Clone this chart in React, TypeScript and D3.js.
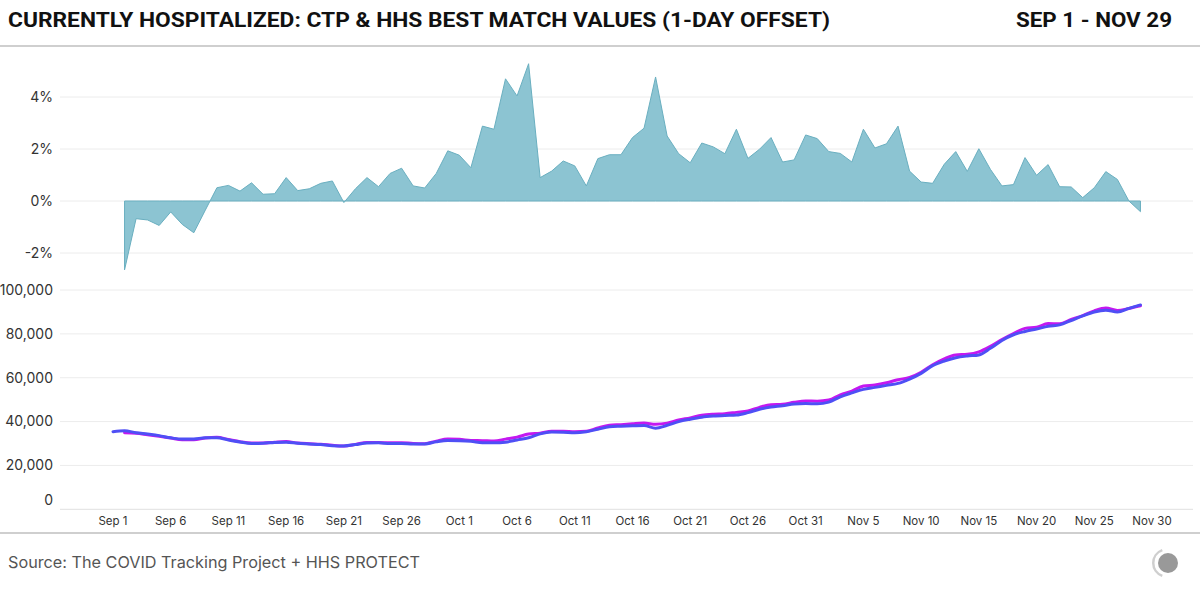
import React from "react";
import * as d3 from "d3";

const W = 1200;
const H = 591;

const startDate = new Date(Date.UTC(2020, 8, 1));
const dayOf = (i: number) => d3.utcDay.offset(startDate, i);

// Percent difference (HHS vs CTP, 1-day offset), Sep 2 .. Nov 29
const diffPct: number[] = [
  -2.65, -0.68, -0.73, -0.94, -0.42, -0.9, -1.22, -0.35, 0.51, 0.6,
  0.38, 0.7, 0.26, 0.28, 0.9, 0.4, 0.47, 0.68, 0.77, -0.06,
  0.47, 0.9, 0.55, 1.06, 1.26, 0.58, 0.5, 1.06, 1.93, 1.76,
  1.28, 2.88, 2.76, 4.7, 4.04, 5.28, 0.9, 1.15, 1.54, 1.35,
  0.58, 1.63, 1.78, 1.78, 2.44, 2.8, 4.77, 2.5, 1.82, 1.47,
  2.23, 2.08, 1.82, 2.76, 1.64, 1.99, 2.44, 1.5, 1.58, 2.54,
  2.4, 1.9, 1.83, 1.5, 2.76, 2.04, 2.2, 2.88, 1.15, 0.73,
  0.68, 1.41, 1.9, 1.14, 2.01, 1.22, 0.58, 0.63, 1.67, 0.99,
  1.4, 0.55, 0.54, 0.13, 0.51, 1.13, 0.83, 0.0, -0.41,
];

// CTP currently hospitalized (thousands), Sep 1 .. Nov 29
const ctpK: number[] = [
  35.4, 35.8, 34.9, 34.3, 33.6, 32.6, 32.0, 32.1, 32.6, 32.6,
  31.6, 30.7, 30.0, 30.1, 30.5, 30.6, 30.1, 29.8, 29.5, 29.0,
  28.9, 29.5, 30.2, 30.3, 30.0, 30.0, 29.8, 29.8, 30.8, 31.4,
  31.3, 31.0, 30.4, 30.3, 30.6, 31.6, 32.6, 34.4, 35.2, 35.1,
  34.9, 35.4, 36.5, 37.6, 37.9, 38.1, 38.2, 37.0, 38.3, 40.0,
  41.1, 42.0, 42.5, 42.8, 43.0, 44.1, 45.6, 46.6, 47.2, 48.0,
  48.2, 48.1, 48.9, 51.3, 53.1, 54.7, 55.6, 56.5, 57.4, 59.4,
  62.0, 65.5, 67.6, 69.1, 69.9, 70.4, 73.4, 77.0, 79.6, 81.1,
  82.2, 83.5, 84.1, 86.1, 88.2, 90.0, 90.8, 90.0, 91.6, 93.2,
];

// HHS best-match values (thousands), Sep 2 .. Nov 29
const hhsK: number[] = [
  34.9, 34.7, 34.0, 33.3, 32.5, 31.7, 31.7, 32.5, 32.8, 31.8,
  30.8, 30.2, 30.2, 30.6, 30.9, 30.2, 29.9, 29.7, 29.2, 28.9,
  29.6, 30.5, 30.5, 30.3, 30.4, 30.0, 29.9, 31.1, 32.0, 31.9,
  31.4, 31.3, 31.1, 32.0, 32.9, 34.3, 34.7, 35.6, 35.6, 35.4,
  35.6, 37.1, 38.3, 38.6, 39.0, 39.3, 38.8, 39.3, 40.7, 41.7,
  42.9, 43.4, 43.6, 44.2, 44.8, 46.5, 47.7, 47.9, 48.8, 49.4,
  49.3, 49.8, 52.2, 53.9, 56.2, 56.7, 57.7, 59.1, 60.1, 62.5,
  65.9, 68.6, 70.4, 70.7, 71.8, 74.3, 77.4, 80.1, 82.5, 83.0,
  84.7, 84.6, 86.6, 88.3, 90.5, 91.8, 90.7, 91.6, 92.8,
];

const pctTicks = [-2, 0, 2, 4];
const countTicks = [0, 20000, 40000, 60000, 80000, 100000];
const xTickDays = [0, 5, 10, 15, 20, 25, 30, 35, 40, 45, 50, 55, 60, 65, 70, 75, 80, 85, 90];

const title = "CURRENTLY HOSPITALIZED: CTP & HHS BEST MATCH VALUES (1-DAY OFFSET)";
const dateRange = "SEP 1 - NOV 29";
const source = "Source: The COVID Tracking Project + HHS PROTECT";

export default function App() {
  const x = d3
    .scaleUtc()
    .domain([startDate, dayOf(90)])
    .range([113, 1152]);
  const yPct = d3.scaleLinear().domain([-2, 4]).range([253, 97]);
  const yCount = d3.scaleLinear().domain([0, 100000]).range([509.3, 290]);

  const diffData = diffPct.map((v, i) => ({ d: dayOf(i + 1), v }));
  const ctpData = ctpK.map((v, i) => ({ d: dayOf(i), v: v * 1000 }));
  const hhsData = hhsK.map((v, i) => ({ d: dayOf(i + 1), v: v * 1000 }));

  const area = d3
    .area<{ d: Date; v: number }>()
    .x((p) => x(p.d))
    .y0(yPct(0))
    .y1((p) => yPct(p.v));

  const line = d3
    .line<{ d: Date; v: number }>()
    .x((p) => x(p.d))
    .y((p) => yCount(p.v))
    .curve(d3.curveMonotoneX);

  const fmtDate = d3.utcFormat("%b %-d");
  const fmtCount = d3.format(",");
  const gridX0 = 60;
  const gridX1 = 1193;
  const labelFont = "Inter, 'Noto Sans', sans-serif";

  return (
    <svg
      width={W}
      height={H}
      viewBox={`0 0 ${W} ${H}`}
      style={{ position: "absolute", left: 0, top: 0, background: "#fff" }}
    >
      <rect x={0} y={0} width={W} height={H} fill="#fff" />
      <text
        x={8}
        y={27}
        fontFamily="Roboto, 'Liberation Sans', sans-serif"
        fontWeight={700}
        fontSize={20}
        fill="#111"
        textLength={822}
        lengthAdjust="spacingAndGlyphs"
      >
        {title}
      </text>
      <text
        x={1172}
        y={27}
        textAnchor="end"
        fontFamily="Roboto, 'Liberation Sans', sans-serif"
        fontWeight={700}
        fontSize={20}
        fill="#111"
        textLength={156}
        lengthAdjust="spacingAndGlyphs"
      >
        {dateRange}
      </text>
      <line x1={0} x2={W} y1={46} y2={46} stroke="#cfcfcf" strokeWidth={2} />

      {/* top chart gridlines */}
      {pctTicks.map((t) => (
        <g key={"p" + t}>
          <line x1={gridX0} x2={gridX1} y1={yPct(t)} y2={yPct(t)} stroke="#ececec" strokeWidth={1} />
          <text
            x={53}
            y={yPct(t)}
            dy="0.35em"
            textAnchor="end"
            fontFamily={labelFont}
            fontSize={14}
            fill="#333"
          >
            {t + "%"}
          </text>
        </g>
      ))}
      <path d={area(diffData) || ""} fill="#8cc4d2" stroke="#6aafc0" strokeWidth={1} />

      {/* bottom chart gridlines */}
      {countTicks.map((t) => (
        <g key={"c" + t}>
          <line
            x1={gridX0}
            x2={gridX1}
            y1={yCount(t)}
            y2={yCount(t)}
            stroke={t === 0 ? "#e0e0e0" : "#ececec"}
            strokeWidth={1}
          />
          <text
            x={53}
            y={t === 0 ? yCount(t) - 9 : yCount(t)}
            dy="0.35em"
            textAnchor="end"
            fontFamily={labelFont}
            fontSize={14}
            fill="#333"
          >
            {fmtCount(t)}
          </text>
        </g>
      ))}
      <path d={line(hhsData) || ""} fill="none" stroke="#c418f0" strokeWidth={3} strokeLinejoin="round" strokeLinecap="round" />
      <path d={line(ctpData) || ""} fill="none" stroke="#4f4ff5" strokeWidth={3} strokeLinejoin="round" strokeLinecap="round" />

      {/* x ticks */}
      {xTickDays.map((i) => (
        <text
          key={"x" + i}
          x={x(dayOf(i))}
          y={521}
          dy="0.35em"
          textAnchor="middle"
          fontFamily={labelFont}
          fontSize={11.5}
          fill="#333"
        >
          {fmtDate(dayOf(i))}
        </text>
      ))}

      <line x1={0} x2={W} y1={533} y2={533} stroke="#cfcfcf" strokeWidth={2} />
      <text
        x={8}
        y={562}
        dy="0.35em"
        fontFamily={labelFont}
        fontSize={16}
        fill="#555"
        textLength={412}
        lengthAdjust="spacingAndGlyphs"
      >
        {source}
      </text>

      {/* logo */}
      <g>
        <path
          d={d3.arc()({
            innerRadius: 12.5,
            outerRadius: 15,
            startAngle: (200 * Math.PI) / 180,
            endAngle: (340 * Math.PI) / 180,
          }) || ""}
          transform="translate(1167,563)"
          fill="#cfcfcf"
        />
        <circle cx={1168} cy={563} r={10} fill="#999" />
      </g>
    </svg>
  );
}
